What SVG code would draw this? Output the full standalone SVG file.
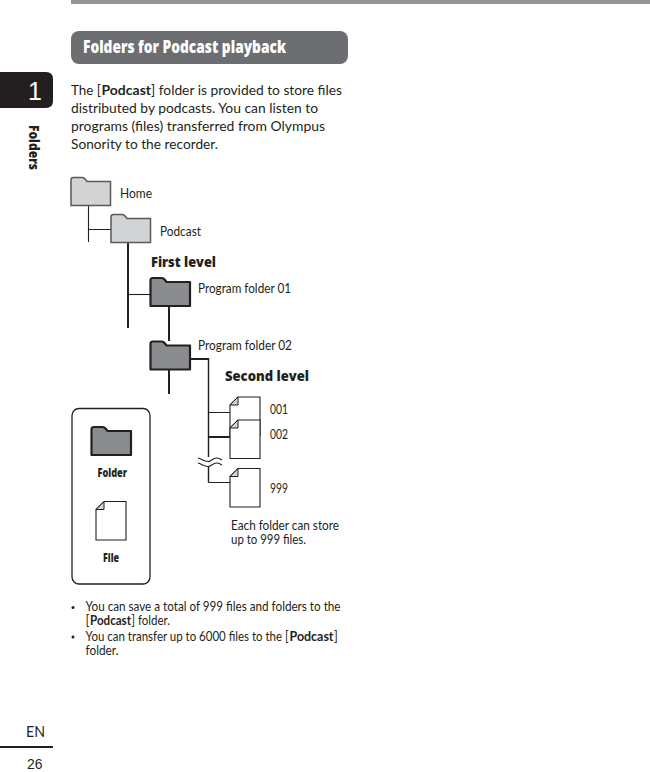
<svg xmlns="http://www.w3.org/2000/svg" width="650" height="772" viewBox="0 0 650 772">
<style>
text{font-family:"Lato","Open Sans",sans-serif;fill:#231f20}
.b{font-size:14px}
.bb{font-size:14px;font-weight:700}
.l{font-size:12.500px}
.s{font-size:12.500px}
.sb{font-size:12.500px;font-weight:700}
.h{font-family:"Open Sans",sans-serif;font-size:13.500px;font-weight:800}
.c{font-family:"Open Sans",sans-serif;font-weight:800}
.fl{fill:#d1d3d4;stroke:#58595b;stroke-width:1.500}
.fd{fill:#8a8c8f;stroke:#231f20;stroke-width:2.200;stroke-linejoin:round}
.fi{fill:#fff;stroke:#231f20;stroke-width:1.100}
.t{stroke:#231f20;stroke-width:1.100;fill:none}
.v{stroke:#231f20;stroke-width:1.400;fill:none}
.m{stroke:#231f20;stroke-width:2;fill:none}
</style>
<defs>
<path id="folder" d="M0 2.500Q0 0 2.500 0H11Q13 0 14.500 2L16 4H39.500V28H0Z"/>
<g id="file"><path class="fi" d="M8 0H30V38.500H0V8Z"/><path d="M8 0V8H0Z" fill="#d1d3d4" stroke="#231f20" stroke-width="1"/></g>
</defs>
<rect id="top-bar" x="71" y="0" width="579" height="4" fill="#939598"/>
<g id="title"><rect x="71" y="31" width="277" height="33" rx="8" fill="#6d6e71"/>
<text class="c" x="83" y="53" font-size="18" textLength="203" lengthAdjust="spacingAndGlyphs" style="fill:#fff">Folders for Podcast playback</text></g>
<g id="tab"><path d="M0 72H46Q53 72 53 79V101Q53 108 46 108H0Z" fill="#231f20"/>
<text x="35" y="100" text-anchor="middle" font-size="25" style="font-family:'Liberation Sans',sans-serif;fill:#fff">1</text></g>
<text class="c" transform="translate(28.500 125) rotate(90)" font-size="13.500" textLength="45" lengthAdjust="spacingAndGlyphs">Folders</text>
<g id="intro">
<text class="b" x="71" y="95" textLength="30" lengthAdjust="spacingAndGlyphs">The [</text>
<text class="bb" x="101.500" y="95" textLength="49.500" lengthAdjust="spacingAndGlyphs">Podcast</text>
<text class="b" x="151" y="95" textLength="191" lengthAdjust="spacingAndGlyphs">] folder is provided to store files</text>
<text class="b" x="71" y="113" textLength="247" lengthAdjust="spacingAndGlyphs">distributed by podcasts. You can listen to</text>
<text class="b" x="71" y="131" textLength="254" lengthAdjust="spacingAndGlyphs">programs (files) transferred from Olympus</text>
<text class="b" x="71" y="149" textLength="147" lengthAdjust="spacingAndGlyphs">Sonority to the recorder.</text>
</g>
<g id="connectors">
<path class="t" d="M88.500 205V242M88.500 229.500H111"/>
<path class="m" d="M128 242V328"/>
<path class="t" d="M128 294.500H150"/>
<path class="m" d="M169 306V341M169 369V394"/>
<path class="m" d="M190 359H208.500"/>
<path class="v" d="M208.500 358V457M208.500 467V482.500"/>
<path class="t" d="M208.500 482.500H230M208.500 412.500H230"/>
<path class="m" d="M208.500 437H230"/>
<path class="t" d="M198 458C202 459 206 463 210 461S216 456 222 460M198 463C202 464 206 468 210 466S216 461 222 465"/>
</g>
<g id="node-home"><use href="#folder" x="71" y="177.500" class="fl"/><text class="l" x="120" y="198" textLength="32" lengthAdjust="spacingAndGlyphs">Home</text></g>
<g id="node-podcast"><use href="#folder" x="111" y="214.500" class="fl"/><text class="l" x="160" y="236" textLength="41" lengthAdjust="spacingAndGlyphs">Podcast</text></g>
<text class="h" x="151" y="266.500" textLength="65" lengthAdjust="spacingAndGlyphs">First level</text>
<g id="node-program-01"><use href="#folder" x="150.500" y="278" class="fd"/><text class="l" x="198" y="293" textLength="93" lengthAdjust="spacingAndGlyphs">Program folder 01</text></g>
<g id="node-program-02"><use href="#folder" x="150.500" y="341.500" class="fd"/><text class="l" x="198" y="350" textLength="94" lengthAdjust="spacingAndGlyphs">Program folder 02</text></g>
<text class="h" x="225" y="380.500" textLength="84" lengthAdjust="spacingAndGlyphs">Second level</text>
<g id="node-001"><use href="#file" x="230" y="397"/><text class="l" x="270" y="414" textLength="18" lengthAdjust="spacingAndGlyphs">001</text></g>
<g id="node-002"><use href="#file" x="230" y="420"/><text class="l" x="270" y="439" textLength="18" lengthAdjust="spacingAndGlyphs">002</text></g>
<g id="node-999"><use href="#file" x="230" y="468.500"/><text class="l" x="270" y="493" textLength="18" lengthAdjust="spacingAndGlyphs">999</text></g>
<g id="note" class="l"><text x="231" y="530" textLength="108" lengthAdjust="spacingAndGlyphs">Each folder can store</text><text x="231" y="544" textLength="75" lengthAdjust="spacingAndGlyphs">up to 999 files.</text></g>
<g id="legend"><rect x="72" y="408.500" width="78" height="175.500" rx="7" fill="#fff" stroke="#231f20" stroke-width="1.300"/>
<use href="#folder" x="91.500" y="427" class="fd"/>
<text class="c" x="97.500" y="477" font-size="12" textLength="29.500" lengthAdjust="spacingAndGlyphs">Folder</text>
<use href="#file" x="96" y="501.500"/>
<text class="c" x="103" y="562" font-size="12" textLength="16" lengthAdjust="spacingAndGlyphs">File</text></g>
<g id="bullets">
<circle cx="73" cy="607.500" r="1.500" fill="#231f20"/><circle cx="73" cy="637" r="1.500" fill="#231f20"/>
<text class="s" x="85.500" y="611" textLength="255" lengthAdjust="spacingAndGlyphs">You can save a total of 999 files and folders to the</text>
<text class="s" x="85.500" y="625">[</text>
<text class="sb" x="90" y="625" textLength="41" lengthAdjust="spacingAndGlyphs">Podcast</text>
<text class="s" x="131.500" y="625" textLength="38.500" lengthAdjust="spacingAndGlyphs">] folder.</text>
<text class="s" x="85.500" y="641" textLength="203" lengthAdjust="spacingAndGlyphs">You can transfer up to 6000 files to the [</text>
<text class="sb" x="289.500" y="641" textLength="44" lengthAdjust="spacingAndGlyphs">Podcast</text>
<text class="s" x="334" y="641">]</text>
<text class="s" x="85.500" y="655" textLength="33" lengthAdjust="spacingAndGlyphs">folder.</text>
</g>
<g id="footer"><text x="26" y="737" font-size="15" textLength="19" lengthAdjust="spacingAndGlyphs">EN</text>
<rect x="0" y="746" width="53" height="2" fill="#231f20"/>
<text x="27" y="769" font-size="15" textLength="15.500" lengthAdjust="spacingAndGlyphs" style="font-family:'Liberation Sans',sans-serif">26</text></g>
</svg>
